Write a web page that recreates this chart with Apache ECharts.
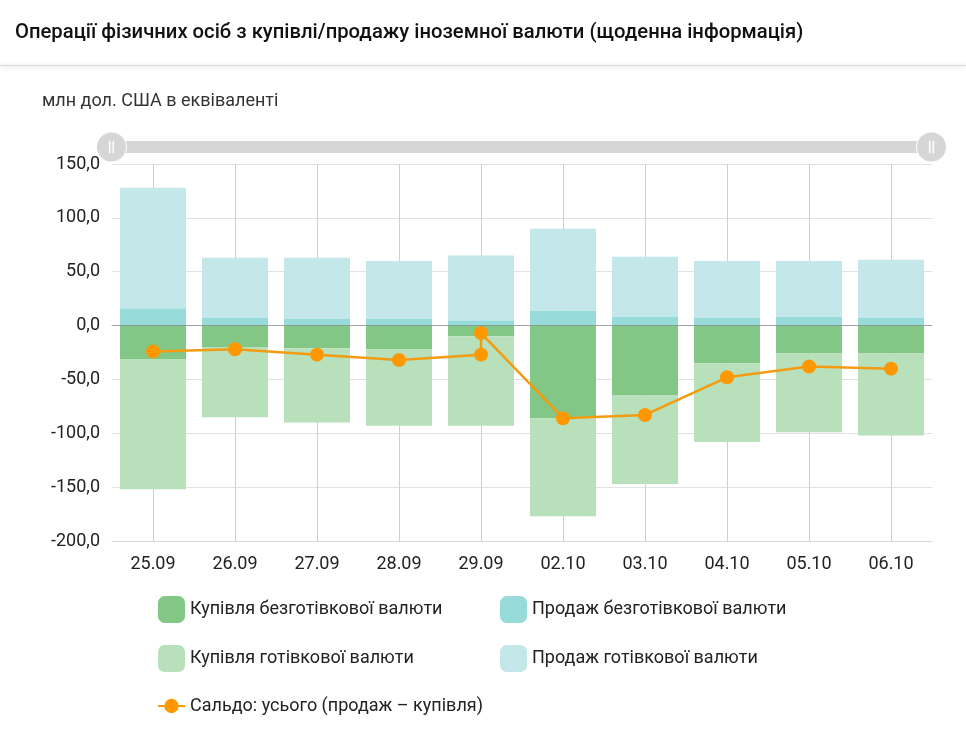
<!DOCTYPE html>
<html>
<head>
<meta charset="utf-8">
<style>
  html, body { margin: 0; padding: 0; background: #fff; }
  #chart { width: 966px; height: 740px; }
</style>
<script src="https://cdn.jsdelivr.net/npm/echarts@6/dist/echarts.min.js"></script>
</head>
<body>
<div id="chart"></div>
<script>
const days = ['25.09', '26.09', '27.09', '28.09', '29.09', '02.10', '03.10', '04.10', '05.10', '06.10']
const buyCashless = [-31, -20, -21, -22, -10, -86, -65, -35, -26, -26]
const buyCash = [-121, -65, -69, -71, -83, -91, -82, -73, -73, -76]
const saleCashless = [16, 7, 6, 6, 5, 14, 8, 7, 8, 7]
const saleCash = [112, 56, 57, 54, 60, 76, 56, 53, 52, 54]
// 29.09 has two balance points on the same day
const balanceDayIndex = [0, 1, 2, 3, 4, 4, 5, 6, 7, 8, 9]
const balanceValues = [-24, -22, -27, -32, -27, -7, -86, -83, -48, -38, -40]
const yTicks = { min: -200, max: 150, interval: 50 }

const FONT = 'Roboto'
const names = [
  'Купівля безготівкової валюти',
  'Продаж безготівкової валюти',
  'Купівля готівкової валюти',
  'Продаж готівкової валюти',
  'Сальдо: усього (продаж – купівля)'
]
const colors = ['#82c785', '#98dbdb', '#b7e0bb', '#c4e8ea', '#ff9800']

function barSeries(name, data, color) {
  return {
    name,
    type: 'bar',
    stack: 'all',
    data,
    barWidth: 66,
    itemStyle: { color }
  }
}

function legendAt(name, left, top, isLine) {
  return {
    data: [name],
    left,
    top,
    padding: 0,
    itemWidth: 27,
    itemHeight: isLine ? 18 : 27,
    itemGap: 5,
    icon: isLine ? undefined : 'roundRect',
    selectedMode: false,
    textStyle: { fontFamily: FONT, fontSize: 18, color: '#222', padding: [2, 0, 0, 0] }
  }
}

const handlePath = 'path://M50 0C77.6 0 100 22.4 100 50C100 77.6 77.6 100 50 100C22.4 100 0 77.6 0 50C0 22.4 22.4 0 50 0ZM43 30V70H45V30ZM55 30V70H57V30Z'

const chart = echarts.init(document.getElementById('chart'), null, { renderer: 'canvas' })
chart.setOption({
  backgroundColor: '#fff',
  animation: false,
  title: [
    {
      text: 'Операції фізичних осіб з купівлі/продажу іноземної валюти (щоденна інформація)',
      left: 15,
      top: 23,
      padding: 0,
      textStyle: { fontFamily: FONT, fontSize: 20.25, fontWeight: 500, color: '#111' }
    },
    {
      text: 'млн дол. США в еквіваленті',
      left: 42,
      top: 92,
      padding: 0,
      textStyle: { fontFamily: FONT, fontSize: 18, fontWeight: 400, color: '#333' }
    }
  ],
  graphic: [{
    type: 'rect',
    shape: { x: 0, y: 65, width: 966, height: 1 },
    style: { fill: '#d8d8d8', shadowBlur: 5, shadowColor: 'rgba(0,0,0,0.25)', shadowOffsetY: 1 },
    silent: true
  }],
  legend: [
    legendAt(names[0], 158, 596),
    legendAt(names[1], 500, 596),
    legendAt(names[2], 158, 645),
    legendAt(names[3], 500, 645),
    legendAt(names[4], 157, 697, true)
  ],
  grid: { left: 112, top: 164, width: 820, height: 377 },
  dataZoom: [{
    type: 'slider',
    xAxisIndex: [0, 1],
    left: 109,
    right: 35,
    top: 141,
    height: 12,
    start: 0,
    end: 100,
    showDetail: false,
    showDataShadow: false,
    brushSelect: false,
    moveHandleSize: 0,
    borderColor: 'transparent',
    borderRadius: 0,
    backgroundColor: '#d6d6d6',
    fillerColor: '#d6d6d6',
    handleIcon: handlePath,
    handleSize: 30,
    handleStyle: { color: '#d6d6d6', borderColor: '#fff', borderWidth: 1 }
  }],
  xAxis: [
    {
      type: 'category',
      data: days,
      axisLine: { onZero: false, lineStyle: { color: '#d8d8d8' } },
      axisTick: { show: false },
      axisLabel: { fontFamily: FONT, fontSize: 18, color: '#222', margin: 14 },
      splitLine: { show: true, alignWithLabel: true, lineStyle: { color: '#cfcfcf' } }
    },
    {
      // zero line, drawn over the bars
      type: 'category',
      data: days,
      position: 'bottom',
      z: 5,
      axisLine: { onZero: true, lineStyle: { color: 'rgba(110,110,110,0.55)' } },
      axisTick: { show: false },
      axisLabel: { show: false },
      splitLine: { show: false }
    }
  ],
  yAxis: {
    type: 'value',
    min: yTicks.min,
    max: yTicks.max,
    interval: yTicks.interval,
    axisLine: { show: false },
    axisTick: { show: false },
    axisLabel: {
      fontFamily: FONT,
      fontSize: 18,
      color: '#222',
      margin: 12,
      padding: [2, 0, 0, 0],
      formatter: (v) => v.toFixed(1).replace('.', ',')
    },
    splitLine: { lineStyle: { color: '#e2e2e2', width: 1.2 } }
  },
  series: [
    barSeries(names[0], buyCashless, colors[0]),
    barSeries(names[2], buyCash, colors[2]),
    barSeries(names[1], saleCashless, colors[1]),
    barSeries(names[3], saleCash, colors[3]),
    {
      name: names[4],
      type: 'line',
      data: balanceDayIndex.map((d, i) => [d, balanceValues[i]]),
      symbol: 'circle',
      symbolSize: 14,
      z: 10,
      itemStyle: { color: colors[4] },
      lineStyle: { color: '#f39c12', width: 2.5 }
    }
  ]
})
window.addEventListener('resize', () => chart.resize())
</script>
</body>
</html>
